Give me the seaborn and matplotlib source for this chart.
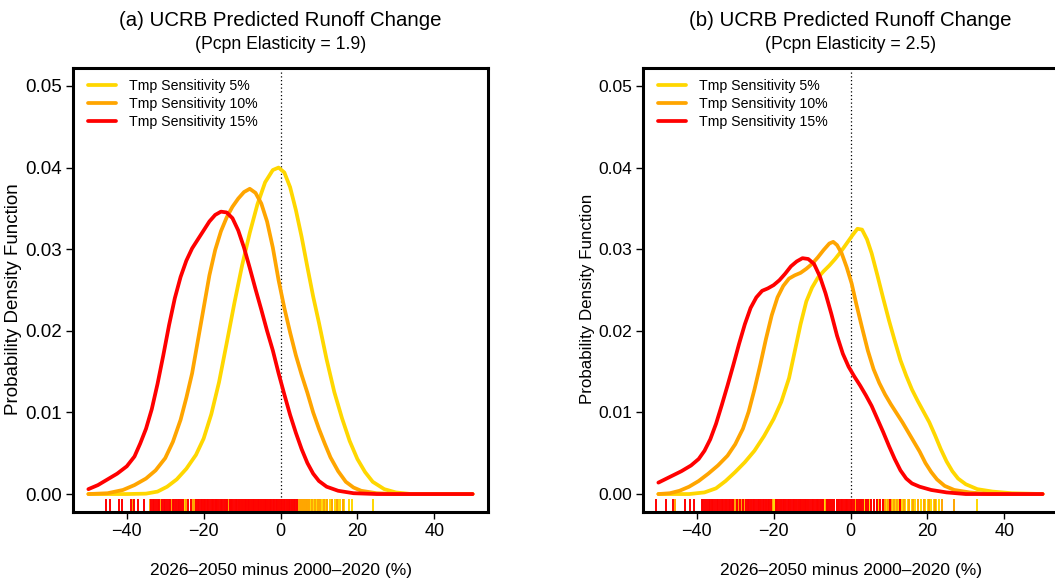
"""Predicted runoff change PDFs for the UCRB, two precipitation elasticities."""

import matplotlib.pyplot as plt
import seaborn as sns

sns.set_theme(style="ticks")
plt.rcParams["font.family"] = ["Liberation Sans", "DejaVu Sans"]
plt.rcParams.update({"text.color": "black", "axes.labelcolor": "black",
                     "xtick.color": "black", "ytick.color": "black"})

series_labels = ["Tmp Sensitivity 5%", "Tmp Sensitivity 10%", "Tmp Sensitivity 15%"]
series_colors = ["#FFD700", "#FFA500", "#FF0000"]

titles = ["(a) UCRB Predicted Runoff Change", "(b) UCRB Predicted Runoff Change"]
subtitles = ["(Pcpn Elasticity = 1.9)", "(Pcpn Elasticity = 2.5)"]
x_label = "2026\u20132050 minus 2000\u20132020 (%)"
y_label = "Probability Density Function"
x_ticks = [-40, -20, 0, 20, 40]
y_ticks = [0.00, 0.01, 0.02, 0.03, 0.04, 0.05]

# panel (a), elasticity 1.9 -- density curves
a5_x = [-50, -40, -35, -32, -29.5, -27, -24.5, -22, -20, -18, -16, -14, -12, -10, -8, -6, -4, -2,
        -0.5, 1, 2.5, 4, 5.5, 7, 8.5, 10, 12, 14, 16, 18, 20, 22, 24, 27, 30, 34, 50]
a5_y = [0.0, 0.0, 0.00005, 0.0003, 0.0009, 0.0018, 0.0031, 0.0048, 0.0068, 0.0098, 0.0137, 0.0185,
        0.0234, 0.0280, 0.0320, 0.0355, 0.0382, 0.0397, 0.0400, 0.0394, 0.0376, 0.0348, 0.0315,
        0.0278, 0.0242, 0.0210, 0.0165, 0.0125, 0.0093, 0.0065, 0.0043, 0.0027, 0.0015, 0.0006,
        0.0002, 0.0, 0.0]
a10_x = [-50, -45, -41, -38, -35, -32.5, -30, -28, -26, -24.5, -23, -21.5, -20, -18.5, -17, -15.5,
         -14, -12.5, -11, -9.5, -8, -6.5, -5, -3.5, -2, -0.5, 1, 2.5, 4, 5.5, 7, 8.5, 10, 11.5, 13,
         15, 17, 19, 21, 25, 30, 50]
a10_y = [0.0, 0.0001, 0.0005, 0.0011, 0.0019, 0.0029, 0.0044, 0.0064, 0.0091, 0.0118, 0.0148,
         0.0188, 0.0228, 0.0268, 0.0299, 0.0322, 0.0339, 0.0352, 0.0362, 0.0370, 0.0374, 0.0369,
         0.0356, 0.0334, 0.0302, 0.0262, 0.0228, 0.0198, 0.0170, 0.0146, 0.0124, 0.0100, 0.0080,
         0.0062, 0.0045, 0.0028, 0.0015, 0.0008, 0.0004, 0.0001, 0.0, 0.0]
a15_x = [-50, -47.5, -45, -42.5, -40, -38, -36.5, -35, -33.5, -32, -30.5, -29, -27.5, -26, -24.5,
         -23, -21.5, -20, -18.5, -17, -15.5, -14, -12.5, -11, -9.5, -8, -6.5, -5, -3.5, -2, -0.5,
         1, 2.5, 4, 5.5, 7, 8.5, 10, 12, 15, 19, 25, 50]
a15_y = [0.0006, 0.0011, 0.0018, 0.0025, 0.0034, 0.0046, 0.0062, 0.0080, 0.0104, 0.0135, 0.0170,
         0.0207, 0.0240, 0.0266, 0.0286, 0.0301, 0.0312, 0.0323, 0.0334, 0.0342, 0.0346, 0.0345,
         0.0338, 0.0323, 0.0302, 0.0277, 0.0251, 0.0226, 0.0200, 0.0176, 0.0148, 0.0122, 0.0097,
         0.0075, 0.0055, 0.0038, 0.0025, 0.0016, 0.0009, 0.0004, 0.0001, 0.0, 0.0]

# panel (b), elasticity 2.5
b5_x = [-50, -42, -38, -35, -32.5, -30, -27.5, -25, -22.5, -20, -18, -16, -14.5, -13, -11.5, -10,
        -8.5, -7, -5.5, -4, -2.5, -1, 0.5, 1.8, 3, 4.3, 5.5, 7, 8.5, 10, 11.5, 13, 14.5, 16, 17.5,
        19, 20.5, 22, 23.5, 25, 26.5, 28, 30, 33, 37, 42, 50]
b5_y = [0.0, 0.0, 0.0002, 0.0007, 0.0016, 0.0027, 0.0039, 0.0053, 0.0071, 0.0092, 0.0113, 0.0142,
        0.0175, 0.0208, 0.0236, 0.0253, 0.0265, 0.0273, 0.0280, 0.0288, 0.0297, 0.0307, 0.0317,
        0.0325, 0.0324, 0.0312, 0.0295, 0.0268, 0.0240, 0.0213, 0.0188, 0.0164, 0.0145, 0.0128,
        0.0114, 0.0101, 0.0088, 0.0072, 0.0055, 0.0040, 0.0028, 0.0019, 0.0012, 0.0006, 0.0003,
        0.0001, 0.0]
b10_x = [-50, -47, -44.5, -42, -39.5, -37, -34.5, -32, -30, -28, -26.5, -25, -23.5, -22, -20.5,
         -19, -17.5, -16, -14.5, -13, -11.5, -10, -8.5, -7, -5.5, -4.5, -3.5, -2.3, -1, 0.3, 1.5,
         3, 4.5, 6, 7.5, 9, 10.5, 12, 13.5, 15, 16.5, 18, 19.5, 21, 22.5, 24.5, 27, 31, 36, 50]
b10_y = [0.0, 0.0001, 0.0004, 0.0009, 0.0016, 0.0025, 0.0035, 0.0047, 0.0061, 0.0080, 0.0101,
         0.0128, 0.0158, 0.0190, 0.0219, 0.0241, 0.0255, 0.0264, 0.0268, 0.0271, 0.0276, 0.0282,
         0.0290, 0.0299, 0.0307, 0.0309, 0.0305, 0.0295, 0.0278, 0.0258, 0.0233, 0.0204, 0.0176,
         0.0153, 0.0136, 0.0122, 0.0110, 0.0099, 0.0088, 0.0076, 0.0064, 0.0052, 0.0038, 0.0027,
         0.0018, 0.0010, 0.0005, 0.0002, 0.0, 0.0]
b15_x = [-50, -47, -44, -41.5, -39.5, -38, -36.5, -35, -33.5, -32, -30.5, -29, -27.5, -26, -24.5,
         -23, -21.5, -20, -18.5, -17, -15.5, -14, -12.5, -11, -9.5, -8, -6.5, -5, -3.5, -2, -0.5,
         1, 2.5, 4, 5.5, 7, 8.5, 10, 11.5, 13, 14.5, 16, 18, 21, 25, 30, 50]
b15_y = [0.0014, 0.0021, 0.0028, 0.0035, 0.0043, 0.0053, 0.0067, 0.0086, 0.0109, 0.0133, 0.0158,
         0.0184, 0.0208, 0.0228, 0.0241, 0.0249, 0.0252, 0.0256, 0.0262, 0.0270, 0.0279, 0.0285,
         0.0289, 0.0288, 0.0282, 0.0267, 0.0246, 0.0221, 0.0194, 0.0172, 0.0156, 0.0144, 0.0133,
         0.0121, 0.0108, 0.0092, 0.0076, 0.0059, 0.0043, 0.0029, 0.0019, 0.0013, 0.0009, 0.0005,
         0.0002, 0.0, 0.0]

# rug ticks (individual ensemble members), estimated from the strip under each panel
a5_rug = [-31.5, -27.2, -24.8, -22.0, -19.6, -17.9, -16.3, -15.1, -13.8, -12.7, -11.6, -10.4,
          -9.5, -8.6, -7.8, -7.0, -6.1, -5.3, -4.6, -3.8, -3.1, -2.4, -1.7, -1.0, -0.4, 0.3, 0.9,
          1.6, 2.2, 2.9, 3.6, 4.4, 4.8, 5.3, 5.8, 6.3, 6.9, 7.4, 7.9, 8.6, 9.0, 9.5, 10.1, 10.9,
          11.5, 12.0, 12.8, 13.4, 14.1, 15.0, 15.6, 16.5, 17.7, 18.5, 24.1]
a10_rug = [-38.5, -34.0, -31.0, -28.4, -26.3, -24.5, -22.9, -22.6, -22.3, -21.4, -20.1, -18.8,
           -17.6, -16.5, -15.4, -14.4, -13.5, -12.5, -11.6, -10.7, -9.9, -9.1, -8.3, -7.5, -6.7,
           -5.9, -5.1, -4.3, -3.5, -2.7, -1.8, -0.9, 0.0, 1.0, 2.0, 3.1, 4.6, 5.0, 5.5, 6.1, 6.6,
           7.0, 7.5, 8.2, 9.1, 9.7, 10.4, 11.4, 12.2, 13.5, 14.6, 16.2]
a15_rug = [-45.3, -44.3, -42.1, -41.3, -38.9, -38.0, -37.0, -35.4, -33.7, -33.2, -32.9, -32.3,
           -31.8, -31.5, -30.9, -30.4, -30.1, -29.5, -29.1, -28.7, -28.0, -27.7, -27.2, -26.6,
           -26.3, -25.8, -25.4, -24.2, -23.4, -21.9, -21.5, -21.2, -20.7, -20.3, -19.9, -19.6,
           -19.1, -18.8, -18.3, -17.9, -17.6, -17.1, -16.7, -16.4, -15.9, -15.5, -15.2, -14.7,
           -14.3, -13.9, -13.2, -12.8, -12.5, -12.0, -11.6, -11.3, -10.8, -10.4, -9.7, -9.3,
           -9.0, -8.5, -8.1, -7.8, -7.2, -6.9, -6.3, -5.9, -5.5, -5.1, -4.6, -4.0, -3.7, -3.3,
           -2.8, -2.5, -2.0, -1.6, -1.3, -0.8, -0.5, 0.1, 0.4, 0.9, 1.3, 1.6, 2.1, 2.5, 3.0, 3.4,
           3.9, 4.3]
b5_rug = [-33.5, -30.7, -29.0, -28.1, -26.0, -23.5, -21.2, -20.0, -19.2, -17.4, -15.7, -14.1,
          -12.6, -11.2, -9.8, -8.5, -7.2, -6.6, -5.9, -4.7, -3.5, -2.3, -1.1, 0.1, 1.3, 2.5, 3.7,
          4.9, 6.1, 7.3, 8.8, 9.5, 10.3, 11.0, 11.7, 12.5, 13.3, 14.2, 15.0, 15.9, 16.8, 17.6,
          18.4, 19.3, 20.1, 21.0, 21.6, 22.3, 23.1, 33.0]
b10_rug = [-45.7, -36.0, -32.5, -30.2, -29.9, -29.2, -28.3, -27.5, -26.6, -25.0, -23.5, -22.1,
           -20.3, -19.5, -18.2, -17.0, -15.8, -14.6, -13.4, -12.2, -11.0, -9.8, -8.7, -7.6, -6.5,
           -5.4, -4.3, -3.2, -2.1, -1.0, 0.2, 1.4, 2.7, 4.0, 5.4, 6.9, 8.5, 9.1, 9.8, 10.6, 11.3,
           12.0, 12.9, 14.0, 15.1, 16.3, 17.6, 19.0, 20.4, 22.0, 23.9, 27.0]
b15_rug = [-50.7, -48.0, -46.1, -43.0, -41.7, -40.8, -38.7, -38.3, -37.8, -37.4, -36.9, -36.6,
           -36.1, -35.7, -35.2, -34.8, -34.4, -33.9, -33.5, -33.1, -32.6, -32.2, -31.7, -31.3,
           -30.9, -30.5, -29.6, -28.8, -27.9, -27.2, -26.8, -26.3, -25.9, -25.5, -25.0, -24.6,
           -24.1, -23.7, -23.3, -22.8, -22.4, -21.9, -21.5, -21.1, -20.6, -19.4, -19.0, -18.5,
           -18.1, -17.6, -17.2, -16.8, -16.3, -15.9, -15.4, -15.0, -14.6, -14.1, -13.7, -13.2,
           -12.8, -12.3, -11.9, -11.5, -11.0, -10.6, -10.1, -9.7, -9.3, -8.8, -8.4, -7.9, -7.5,
           -7.1, -6.2, -5.8, -5.3, -4.9, -4.4, -3.6, -3.1, -2.6, -2.2, -1.7, -1.3, -0.8, -0.4,
           0.1, 0.5, 1.0, 1.6, 2.1, 2.7, 3.3, 4.0, 4.6, 5.3, 6.1, 6.9, 7.7, 8.4, 10.2, 12.9]


def draw_panel(ax, curves, rugs, title, subtitle, ytick_size, ylab_size, ylab_x):
    for (cx, cy), lab, col in zip(curves, series_labels, series_colors):
        sns.lineplot(x=cx, y=cy, ax=ax, color=col, linewidth=2.7, label=lab, sort=False)
    for rug, col in zip(rugs, series_colors):
        sns.rugplot(x=rug, ax=ax, color=col, height=0.03, linewidth=1.4, expand_margins=False)

    ax.axvline(0, color="black", linestyle=(0, (1, 2)), linewidth=0.9, zorder=1)

    ax.set_xlim(-54, 54)
    ax.set_ylim(-0.0022, 0.0522)
    ax.set_xticks(x_ticks)
    ax.set_yticks(y_ticks)
    ax.set_yticklabels([f"{v:.2f}" for v in y_ticks])
    ax.tick_params(direction="out", length=5, width=1, pad=3)
    ax.tick_params(axis="x", labelsize=13)
    ax.tick_params(axis="y", labelsize=ytick_size)
    for s in ax.spines.values():
        s.set_visible(True)
        s.set_linewidth(2.2)
        s.set_color("black")

    ax.set_xlabel(x_label, fontsize=12.5)
    ax.xaxis.set_label_coords(0.5, -0.115)
    ax.set_ylabel(y_label, fontsize=ylab_size)
    ax.yaxis.set_label_coords(ylab_x, 0.48)

    ax.text(0.5, 1.106, title, transform=ax.transAxes, ha="center", va="center", fontsize=14.7)
    ax.text(0.5, 1.054, subtitle, transform=ax.transAxes, ha="center", va="center", fontsize=12.7)

    ax.legend(loc="upper left", bbox_to_anchor=(0.005, 1.003), frameon=False, fontsize=10.2,
              handlelength=2.0, handletextpad=0.92, labelspacing=0.28, borderaxespad=0.5)


fig = plt.figure(figsize=(10.55, 5.79), dpi=100)
ax_a = fig.add_axes([73 / 1055, 1 - 512 / 579, 415 / 1055, 444 / 579])
ax_b = fig.add_axes([643 / 1055, 1 - 512 / 579, 415 / 1055, 444 / 579])

draw_panel(ax_a, [(a5_x, a5_y), (a10_x, a10_y), (a15_x, a15_y)],
           [a5_rug, a10_rug, a15_rug], titles[0], subtitles[0], 13.5, 13.5, -0.122)
draw_panel(ax_b, [(b5_x, b5_y), (b10_x, b10_y), (b15_x, b15_y)],
           [b5_rug, b10_rug, b15_rug], titles[1], subtitles[1], 12.5, 12.2, -0.115)

fig.savefig("out.png", dpi=100)
